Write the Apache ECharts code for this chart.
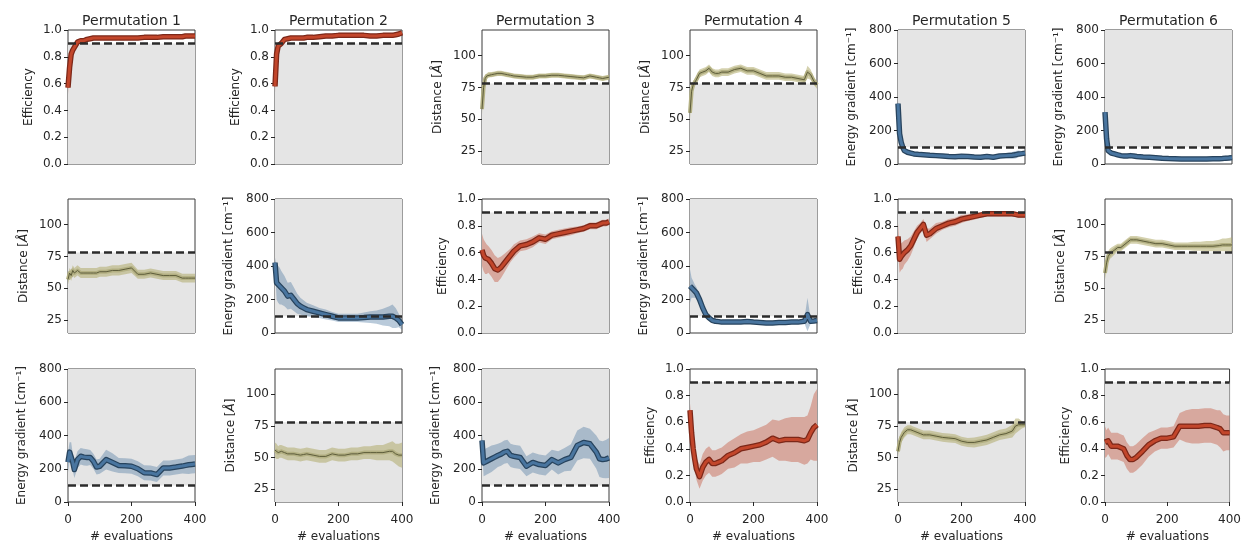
<!DOCTYPE html>
<html>
<head>
<meta charset="utf-8">
<script src="https://cdn.jsdelivr.net/npm/echarts@6/dist/echarts.min.js"></script>
<style>
  html, body { margin: 0; background: #fff; }
  #chart { width: 1244px; height: 544px; }
</style>
</head>
<body>
<div id="chart"></div>
<script>
// x positions (number of evaluations) the curves were read at
const evals = [0, 5, 10, 15, 20, 30, 40, 50, 60, 70, 80, 90, 100, 120, 140, 160, 180, 200, 220, 240, 260, 280, 300, 320, 340, 360, 370, 380, 390, 400];

// row 1
const r1c1Mean = [0.57, 0.72, 0.82, 0.85, 0.87, 0.91, 0.92, 0.92, 0.93, 0.935, 0.94, 0.94, 0.94, 0.94, 0.94, 0.94, 0.94, 0.94, 0.94, 0.945, 0.945, 0.945, 0.95, 0.95, 0.95, 0.95, 0.955, 0.955, 0.955, 0.955];
const r1c1Sd = [0.05, 0.03, 0.02, 0.015, 0.012, 0.01, 0.01, 0.008, 0.008, 0.008, 0.008, 0.008, 0.008, 0.008, 0.008, 0.008, 0.008, 0.008, 0.008, 0.008, 0.008, 0.008, 0.008, 0.008, 0.008, 0.008, 0.008, 0.008, 0.008, 0.008];
const r1c2Mean = [0.58, 0.82, 0.88, 0.89, 0.9, 0.93, 0.935, 0.94, 0.94, 0.94, 0.94, 0.94, 0.945, 0.945, 0.95, 0.955, 0.955, 0.96, 0.96, 0.96, 0.96, 0.96, 0.955, 0.955, 0.96, 0.96, 0.96, 0.965, 0.97, 0.98];
const r1c2Sd = [0.05, 0.03, 0.02, 0.015, 0.012, 0.01, 0.01, 0.008, 0.008, 0.008, 0.008, 0.008, 0.008, 0.008, 0.008, 0.008, 0.008, 0.008, 0.008, 0.008, 0.008, 0.008, 0.008, 0.008, 0.008, 0.008, 0.008, 0.008, 0.008, 0.008];
const r1c3Mean = [58, 75, 82, 84, 85, 85, 85.5, 86, 86, 85.5, 85, 84.5, 84, 83.5, 83, 83, 84, 84, 84.5, 84.5, 84, 83.5, 83, 82.5, 84, 83, 82.5, 82, 82.5, 83];
const r1c3Sd = [4, 3, 2.5, 2, 2, 2, 2, 2, 2, 2, 2, 2, 2, 2, 2, 2, 2, 2, 2, 2, 2, 2, 2, 2, 2, 2, 2, 2, 2, 2];
const r1c4Mean = [55, 72, 77, 79, 81, 86, 87, 88, 90, 87, 86, 86, 87, 87, 89, 90, 88, 88, 86, 84, 84, 84, 83, 83, 82, 81, 87, 85, 80, 77];
const r1c4Sd = [5, 4, 3, 3, 3, 3, 3, 3, 3, 3, 3, 3, 3, 3, 3, 3, 3, 3, 3, 3, 3, 3, 3, 3, 3, 3, 5, 4, 3, 3];
const r1c5Mean = [360, 180, 130, 100, 80, 70, 65, 60, 58, 56, 55, 54, 52, 50, 48, 45, 44, 46, 45, 42, 40, 45, 40, 48, 50, 52, 55, 60, 62, 65];
const r1c5Sd = [20, 25, 20, 15, 12, 10, 8, 8, 8, 8, 8, 8, 8, 8, 8, 8, 8, 8, 8, 8, 8, 10, 10, 12, 15, 20, 22, 20, 15, 12];
const r1c6Mean = [310, 150, 80, 70, 65, 60, 55, 50, 48, 48, 50, 48, 45, 42, 40, 38, 35, 33, 32, 30, 30, 30, 30, 30, 32, 32, 33, 35, 36, 38];
const r1c6Sd = [15, 20, 15, 12, 10, 8, 8, 8, 8, 8, 8, 8, 8, 8, 8, 8, 8, 8, 8, 8, 8, 8, 8, 8, 10, 10, 12, 15, 15, 15];

// row 2
const r2c1Mean = [57, 62, 60, 64, 62, 64, 62, 62, 62, 62, 62, 62, 63, 63, 64, 64, 65, 66, 61, 61, 62, 61, 60, 60, 60, 58, 58, 58, 58, 58];
const r2c1Sd = [4, 4, 4, 4, 4, 4, 4, 4, 4, 4, 4, 4, 4, 4, 4, 4, 4, 4, 3.5, 3.5, 3.5, 3.5, 3.5, 3.5, 3.5, 3.5, 3.5, 3.5, 3.5, 3.5];
const r2c2Mean = [420, 300, 290, 280, 270, 250, 220, 225, 200, 175, 160, 150, 140, 130, 120, 110, 100, 90, 90, 90, 90, 92, 95, 95, 95, 100, 100, 90, 75, 50];
const r2c2Sd = [30, 100, 110, 110, 100, 90, 80, 80, 70, 60, 50, 45, 40, 35, 30, 30, 25, 25, 25, 25, 25, 30, 35, 40, 50, 60, 70, 60, 40, 30];
const r2c3Mean = [0.62, 0.58, 0.56, 0.55, 0.55, 0.52, 0.48, 0.47, 0.49, 0.52, 0.55, 0.58, 0.61, 0.65, 0.66, 0.68, 0.71, 0.70, 0.73, 0.74, 0.75, 0.76, 0.77, 0.78, 0.80, 0.80, 0.81, 0.82, 0.82, 0.83];
const r2c3Sd = [0.12, 0.12, 0.12, 0.11, 0.1, 0.1, 0.1, 0.09, 0.08, 0.07, 0.06, 0.05, 0.05, 0.04, 0.04, 0.04, 0.035, 0.035, 0.03, 0.03, 0.03, 0.03, 0.025, 0.025, 0.025, 0.025, 0.025, 0.025, 0.025, 0.025];
const r2c4Mean = [280, 270, 260, 250, 240, 200, 150, 110, 90, 75, 70, 68, 65, 65, 65, 65, 68, 65, 63, 60, 60, 62, 62, 65, 65, 70, 110, 70, 72, 75];
const r2c4Sd = [100, 60, 50, 40, 35, 30, 25, 15, 10, 8, 8, 8, 8, 8, 8, 8, 8, 8, 8, 8, 8, 8, 8, 8, 8, 10, 100, 15, 10, 10];
const r2c5Mean = [0.72, 0.55, 0.57, 0.58, 0.6, 0.62, 0.65, 0.7, 0.75, 0.78, 0.81, 0.73, 0.74, 0.78, 0.8, 0.82, 0.83, 0.85, 0.86, 0.87, 0.88, 0.89, 0.89, 0.89, 0.89, 0.89, 0.885, 0.88, 0.88, 0.88];
const r2c5Sd = [0.1, 0.1, 0.1, 0.1, 0.09, 0.08, 0.07, 0.06, 0.05, 0.04, 0.04, 0.05, 0.04, 0.04, 0.03, 0.03, 0.03, 0.03, 0.025, 0.025, 0.02, 0.02, 0.02, 0.02, 0.02, 0.02, 0.02, 0.02, 0.02, 0.02];
const r2c6Mean = [62, 70, 75, 77, 78, 80, 82, 82, 84, 86, 88, 88, 88, 87, 86, 85, 85, 84, 83, 83, 83, 83, 83, 83, 83, 83.5, 84, 84, 84, 84];
const r2c6Sd = [5, 5, 4, 4, 4, 3.5, 3, 3, 3, 3, 3, 3, 3, 3, 3, 3, 3, 3, 3, 3, 3, 3.5, 3.5, 4, 4, 4.5, 5, 5, 5.5, 6];

// row 3
const r3c1Mean = [240, 300, 310, 240, 195, 255, 275, 270, 268, 268, 245, 210, 215, 255, 238, 220, 218, 215, 200, 176, 175, 165, 205, 205, 210, 216, 220, 224, 226, 228];
const r3c1Sd = [60, 60, 50, 50, 50, 50, 50, 50, 50, 45, 45, 45, 45, 60, 55, 45, 45, 45, 45, 45, 45, 45, 45, 45, 45, 45, 50, 55, 55, 55];
const r3c2Mean = [56, 55, 54, 55, 55, 54, 53, 53, 53, 52.5, 52, 52.5, 53, 52, 51, 51, 53, 52, 52, 53, 53, 54, 54, 54, 54, 55, 55, 53, 52, 52];
const r3c2Sd = [6, 6, 5, 5, 5, 5, 5, 5, 5, 5, 5, 5, 5, 5, 5, 5, 5, 5, 5, 5, 5, 5, 5, 6, 6, 7, 8, 8, 9, 10];
const r3c3Mean = [370, 235, 240, 245, 250, 260, 270, 280, 288, 300, 305, 280, 275, 268, 215, 238, 225, 220, 255, 235, 255, 268, 340, 358, 350, 300, 260, 255, 258, 265];
const r3c3Sd = [40, 80, 80, 80, 80, 80, 75, 70, 70, 70, 70, 70, 70, 70, 60, 60, 60, 60, 60, 70, 70, 80, 90, 95, 90, 100, 110, 110, 115, 120];
const r3c4Mean = [0.69, 0.52, 0.4, 0.32, 0.25, 0.19, 0.26, 0.3, 0.32, 0.29, 0.29, 0.3, 0.31, 0.35, 0.37, 0.4, 0.41, 0.42, 0.43, 0.45, 0.48, 0.46, 0.47, 0.47, 0.47, 0.46, 0.47, 0.52, 0.56, 0.58];
const r3c4Sd = [0.05, 0.08, 0.08, 0.08, 0.08, 0.09, 0.1, 0.1, 0.1, 0.1, 0.1, 0.1, 0.1, 0.1, 0.11, 0.11, 0.12, 0.12, 0.13, 0.13, 0.14, 0.15, 0.16, 0.17, 0.17, 0.18, 0.18, 0.2, 0.25, 0.27];
const r3c5Mean = [55, 62, 66, 68, 70, 72, 72, 71, 70, 69, 68, 68, 68, 67, 66, 65.5, 65, 63, 62, 62, 63, 64, 66, 68, 69, 71, 75, 76, 76, 76];
const r3c5Sd = [4, 4, 4, 4, 4, 3.5, 3.5, 3.5, 3.5, 3.5, 3.5, 3.5, 3.5, 3.5, 3.5, 3.5, 3.5, 3.5, 3.5, 4, 4, 4, 4, 4, 4, 5, 6, 5, 3, 2];
const r3c6Mean = [0.45, 0.44, 0.46, 0.44, 0.42, 0.42, 0.42, 0.41, 0.40, 0.35, 0.32, 0.32, 0.335, 0.38, 0.43, 0.46, 0.48, 0.48, 0.49, 0.57, 0.57, 0.57, 0.57, 0.575, 0.575, 0.56, 0.55, 0.52, 0.52, 0.52];
const r3c6Sd = [0.12, 0.1, 0.1, 0.1, 0.1, 0.1, 0.1, 0.1, 0.1, 0.1, 0.1, 0.1, 0.1, 0.1, 0.09, 0.08, 0.08, 0.08, 0.08, 0.1, 0.12, 0.13, 0.13, 0.13, 0.13, 0.13, 0.14, 0.14, 0.13, 0.13];

const titles = ['Permutation 1', 'Permutation 2', 'Permutation 3', 'Permutation 4', 'Permutation 5', 'Permutation 6'];
const xTicks = [0, 200, 400];

// which metric sits in each panel
const layout = [
  ['eff', 'eff', 'dist', 'dist', 'grad', 'grad'],
  ['dist', 'grad', 'eff', 'grad', 'eff', 'dist'],
  ['grad', 'dist', 'grad', 'eff', 'dist', 'eff']
];
const panels = [
  [r1c1Mean, r1c1Sd], [r1c2Mean, r1c2Sd], [r1c3Mean, r1c3Sd], [r1c4Mean, r1c4Sd], [r1c5Mean, r1c5Sd], [r1c6Mean, r1c6Sd],
  [r2c1Mean, r2c1Sd], [r2c2Mean, r2c2Sd], [r2c3Mean, r2c3Sd], [r2c4Mean, r2c4Sd], [r2c5Mean, r2c5Sd], [r2c6Mean, r2c6Sd],
  [r3c1Mean, r3c1Sd], [r3c2Mean, r3c2Sd], [r3c3Mean, r3c3Sd], [r3c4Mean, r3c4Sd], [r3c5Mean, r3c5Sd], [r3c6Mean, r3c6Sd]
];

const FONT = 'DejaVu Sans';
const INK = '#262626';

const metrics = {
  eff: {
    name: 'Efficiency', min: 0, max: 1, ticks: [0, 0.2, 0.4, 0.6, 0.8, 1.0],
    fmt: v => v.toFixed(1), target: 0.9, grey: [0, 0.9], nameGap: 33,
    band: 'rgba(193,69,43,0.38)', outline: '#7c2718', line: '#c2462b', lineW: 3, outW: 5.5
  },
  dist: {
    name: '{t|Distance [}{a|Å}{t|]}', min: 15, max: 120, ticks: [25, 50, 75, 100],
    fmt: v => String(v), target: 78, grey: [15, 78], nameGap: 38,
    band: 'rgba(176,172,108,0.55)', outline: '#5d5c3a', line: '#b3b083', lineW: 1, outW: 4
  },
  grad: {
    name: 'Energy gradient [cm\u207B\u00B9]', min: 0, max: 800, ticks: [0, 200, 400, 600, 800],
    fmt: v => String(v), target: 100, grey: [100, 800], nameGap: 40,
    band: 'rgba(72,115,158,0.38)', outline: '#27435d', line: '#49759f', lineW: 3, outW: 5.5
  }
};

const colLeft = [68, 275, 482, 690, 898, 1105];
const rowTop = [30, 199, 369];
const plotW = 127, plotH = 134;

const grids = [], xAxes = [], yAxes = [], series = [], titleList = [];

titles.forEach((t, c) => {
  titleList.push({
    text: t, left: colLeft[c] + plotW / 2, top: 14, textAlign: 'center', padding: 0,
    textStyle: { fontFamily: FONT, fontSize: 14, fontWeight: 'normal', color: INK }
  });
});

// band between mean - sd and mean + sd, drawn as one polygon
function bandRenderer(lo, hi, color) {
  return function (params, api) {
    if (params.dataIndex !== 0) return null;
    const pts = [];
    for (let i = 0; i < evals.length; i++) pts.push(api.coord([evals[i], lo[i]]));
    for (let i = evals.length - 1; i >= 0; i--) pts.push(api.coord([evals[i], hi[i]]));
    return {
      type: 'polygon',
      shape: { points: pts },
      style: { fill: color, stroke: null }
    };
  };
}

layout.forEach((row, r) => row.forEach((key, c) => {
  const k = r * 6 + c;
  const m = metrics[key];
  const [mean, sd] = panels[k];
  const bottomRow = r === 2;

  grids.push({
    left: colLeft[c], top: rowTop[r], width: plotW, height: plotH,
    show: true, backgroundColor: '#fff', borderColor: '#3a3a3a', borderWidth: 1
  });

  xAxes.push({
    type: 'value', gridIndex: k, min: 0, max: 400, interval: 200,
    axisLine: { show: false },
    axisTick: { show: bottomRow, inside: false, length: 4, lineStyle: { color: INK } },
    axisLabel: { show: bottomRow, fontFamily: FONT, fontSize: 12, color: INK, margin: 12, customValues: xTicks },
    splitLine: { show: false },
    name: bottomRow ? '# evaluations' : '', nameLocation: 'middle', nameGap: 29,
    nameTextStyle: { fontFamily: FONT, fontSize: 12, color: INK }
  });

  yAxes.push({
    type: 'value', gridIndex: k, min: m.min, max: m.max,
    axisLine: { show: false },
    axisTick: { show: true, inside: false, length: 4, lineStyle: { color: INK }, customValues: m.ticks },
    axisLabel: { fontFamily: FONT, fontSize: 12, color: INK, margin: 6, customValues: m.ticks, formatter: m.fmt },
    splitLine: { show: false },
    name: m.name, nameLocation: 'middle', nameGap: m.nameGap,
    nameTextStyle: {
      fontFamily: FONT, fontSize: 12, color: INK,
      rich: {
        t: { fontFamily: FONT, fontSize: 12, color: INK },
        a: { fontFamily: FONT, fontSize: 12, color: INK, fontStyle: 'italic' }
      }
    }
  });

  const lo = mean.map((v, i) => v - sd[i]);
  const hi = mean.map((v, i) => v + sd[i]);
  const line = evals.map((x, i) => [x, mean[i]]);

  // band, with the grey region of the panel behind it
  series.push({
    type: 'custom', xAxisIndex: k, yAxisIndex: k, clip: true, silent: true, z: 2,
    data: evals.map((x, i) => [x, lo[i], hi[i]]),
    encode: { x: 0, y: [1, 2] },
    renderItem: bandRenderer(lo, hi, m.band),
    markArea: {
      silent: true, itemStyle: { color: '#e5e5e5' },
      data: [[{ yAxis: m.grey[0] }, { yAxis: m.grey[1] }]]
    }
  });
  // outlined mean curve
  series.push({
    type: 'line', xAxisIndex: k, yAxisIndex: k, data: line,
    symbol: 'none', silent: true, z: 3,
    lineStyle: { color: key === 'dist' ? m.line : m.outline, width: m.outW, join: 'round' }
  });
  series.push({
    type: 'line', xAxisIndex: k, yAxisIndex: k, data: line,
    symbol: 'none', silent: true, z: 4,
    lineStyle: { color: key === 'dist' ? m.outline : m.line, width: m.lineW, join: 'round' },
    markLine: {
      silent: true, symbol: 'none', label: { show: false },
      lineStyle: { color: '#2b2b2b', width: 2.5, type: [8, 4] },
      data: [{ yAxis: m.target }]
    }
  });
}));

const chart = echarts.init(document.getElementById('chart'), null, { renderer: 'canvas' });
chart.setOption({
  animation: false,
  backgroundColor: '#fff',
  title: titleList,
  grid: grids,
  xAxis: xAxes,
  yAxis: yAxes,
  series: series
});
</script>
</body>
</html>
